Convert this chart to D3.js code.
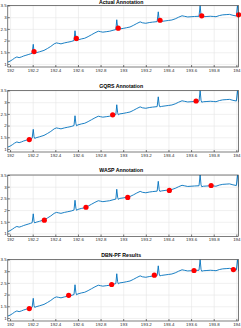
<!DOCTYPE html>
<html>
<head>
<meta charset="utf-8">
<script src="https://cdn.jsdelivr.net/npm/d3@7"></script>
<style>
  body { margin: 0; background: #fff; }
  text { font-family: "Liberation Sans", Arial, sans-serif; }
</style>
</head>
<body>
<script>
// signal (time, value)
const sigT = [191.98, 192.00, 192.02, 192.04, 192.06, 192.08, 192.10, 192.12, 192.14, 192.16, 192.18, 192.195,
  192.205, 192.212, 192.218, 192.23, 192.26, 192.30, 192.33, 192.36, 192.39, 192.41, 192.43, 192.45, 192.48, 192.51, 192.54, 192.565,
  192.574, 192.582, 192.588, 192.60, 192.63, 192.66, 192.69, 192.72, 192.75, 192.78, 192.80, 192.82, 192.85, 192.88, 192.91, 192.935,
  192.943, 192.951, 192.957, 192.97, 193.00, 193.03, 193.06, 193.09, 193.12, 193.15, 193.17, 193.20, 193.23, 193.26, 193.30,
  193.31, 193.318, 193.324, 193.34, 193.37, 193.40, 193.43, 193.46, 193.49, 193.52, 193.54, 193.57, 193.60, 193.63, 193.67,
  193.68, 193.688, 193.694, 193.71, 193.74, 193.77, 193.80, 193.82, 193.85, 193.88, 193.91, 193.94, 193.97, 194.00,
  194.01, 194.015, 194.02];
const sigV = [1.08, 1.12, 1.18, 1.25, 1.30, 1.27, 1.30, 1.34, 1.37, 1.40, 1.43, 1.46,
  1.84, 1.52, 1.45, 1.48, 1.52, 1.58, 1.66, 1.75, 1.86, 1.90, 1.88, 1.86, 1.90, 1.93, 1.96, 2.00,
  2.42, 2.08, 1.99, 2.03, 2.07, 2.10, 2.17, 2.25, 2.33, 2.40, 2.38, 2.36, 2.38, 2.40, 2.44, 2.47,
  2.89, 2.55, 2.46, 2.50, 2.52, 2.55, 2.58, 2.65, 2.73, 2.80, 2.76, 2.74, 2.77, 2.79, 2.81,
  3.23, 2.88, 2.80, 2.82, 2.84, 2.86, 2.88, 2.93, 3.00, 3.06, 3.04, 3.01, 3.02, 3.03, 3.04,
  3.50, 3.08, 3.00, 3.02, 3.03, 3.04, 3.03, 3.02, 3.07, 3.10, 3.11, 3.12, 3.08, 3.05,
  3.49, 3.30, 3.00];

// annotations per panel
const titles = ["Actual Annotation", "GQRS Annotation", "WASP Annotation", "DBN-PF Results"];
const actualT = [192.212, 192.586, 192.956, 193.326, 193.694, 194.02];
const actualV = [1.53, 2.09, 2.53, 2.87, 3.06, 3.10];
const gqrsT = [192.17, 192.907, 193.644];
const gqrsV = [1.40, 2.46, 3.05];
const waspT = [192.303, 192.671, 193.04, 193.408, 193.777];
const waspV = [1.57, 2.12, 2.54, 2.84, 3.05];
const dbnT = [192.17, 192.518, 192.898, 193.275, 193.626, 193.974];
const dbnV = [1.40, 1.97, 2.43, 2.83, 3.03, 3.07];

const xTicks = [192, 192.2, 192.4, 192.6, 192.8, 193, 193.2, 193.4, 193.6, 193.8, 194];
const yTicks = [1, 1.5, 2, 2.5, 3, 3.5];

const marksT = [actualT, gqrsT, waspT, dbnT];
const marksV = [actualV, gqrsV, waspV, dbnV];

const width = 241, height = 328;
const left = 7.8, right = 238.6;
const panelH = 61.5;
const tops = [5.5, 90.5, 175, 259.5];

const svg = d3.select("body").append("svg")
    .attr("width", width)
    .attr("height", height);

const xscale = d3.scaleLinear().domain([191.98, 194.02]).range([left, right]);
const signal = sigT.map((t, i) => ({t: t, v: sigV[i]}));

tops.forEach((top, p) => {
    const yscale = d3.scaleLinear().domain([0.87, 3.5]).range([top + panelH, top]);
    const g = svg.append("g");

    svg.append("clipPath").attr("id", "clip" + p)
        .append("rect")
        .attr("x", left).attr("y", top)
        .attr("width", right - left).attr("height", panelH);

    // grid
    g.append("g")
        .attr("transform", `translate(0,${top + panelH})`)
        .call(d3.axisBottom(xscale).tickValues(xTicks).tickSize(-panelH).tickFormat(""))
        .call(a => a.select(".domain").remove())
        .call(a => a.selectAll("line").attr("stroke", "#e6e6e6").attr("stroke-width", 0.6));
    g.append("g")
        .attr("transform", `translate(${left},0)`)
        .call(d3.axisLeft(yscale).tickValues(yTicks).tickSize(-(right - left)).tickFormat(""))
        .call(a => a.select(".domain").remove())
        .call(a => a.selectAll("line").attr("stroke", "#e6e6e6").attr("stroke-width", 0.6));

    // signal
    g.append("path")
        .datum(signal)
        .attr("clip-path", `url(#clip${p})`)
        .attr("fill", "none")
        .attr("stroke", "#0072BD")
        .attr("stroke-width", 0.9)
        .attr("d", d3.line().x(d => xscale(d.t)).y(d => yscale(d.v)));

    // annotation dots
    g.selectAll("circle.mark")
        .data(marksT[p].map((t, i) => ({t: t, v: marksV[p][i]})))
        .enter()
        .append("circle")
        .attr("cx", d => xscale(d.t))
        .attr("cy", d => yscale(d.v))
        .attr("r", 2.6)
        .attr("fill", "#ff0000");

    // axes with inward ticks
    const xa = g.append("g")
        .attr("transform", `translate(0,${top + panelH})`)
        .call(d3.axisBottom(xscale).tickValues(xTicks).tickSize(-2).tickPadding(1.5).tickFormat(d => d));
    const ya = g.append("g")
        .attr("transform", `translate(${left},0)`)
        .call(d3.axisLeft(yscale).tickValues(yTicks).tickSize(-2).tickPadding(1.2).tickFormat(d => d));
    [xa, ya].forEach(a => {
        a.select(".domain").remove();
        a.selectAll("line").attr("stroke", "#262626").attr("stroke-width", 0.6);
        a.selectAll("text").attr("font-size", 4.4).attr("fill", "#262626")
            .attr("font-family", "Liberation Sans, Arial, sans-serif");
    });
    xa.selectAll("text").attr("dy", "0.75em");

    // box
    g.append("rect")
        .attr("x", left).attr("y", top)
        .attr("width", right - left).attr("height", panelH)
        .attr("fill", "none")
        .attr("stroke", "#262626")
        .attr("stroke-width", 0.6);

    // title
    g.append("text")
        .attr("x", (left + right) / 2 - 2)
        .attr("y", Math.max(top - 3, 4.4))
        .attr("text-anchor", "middle")
        .attr("font-size", 5.2)
        .attr("font-weight", "bold")
        .attr("fill", "#000")
        .text(titles[p]);
});
</script>
</body>
</html>
